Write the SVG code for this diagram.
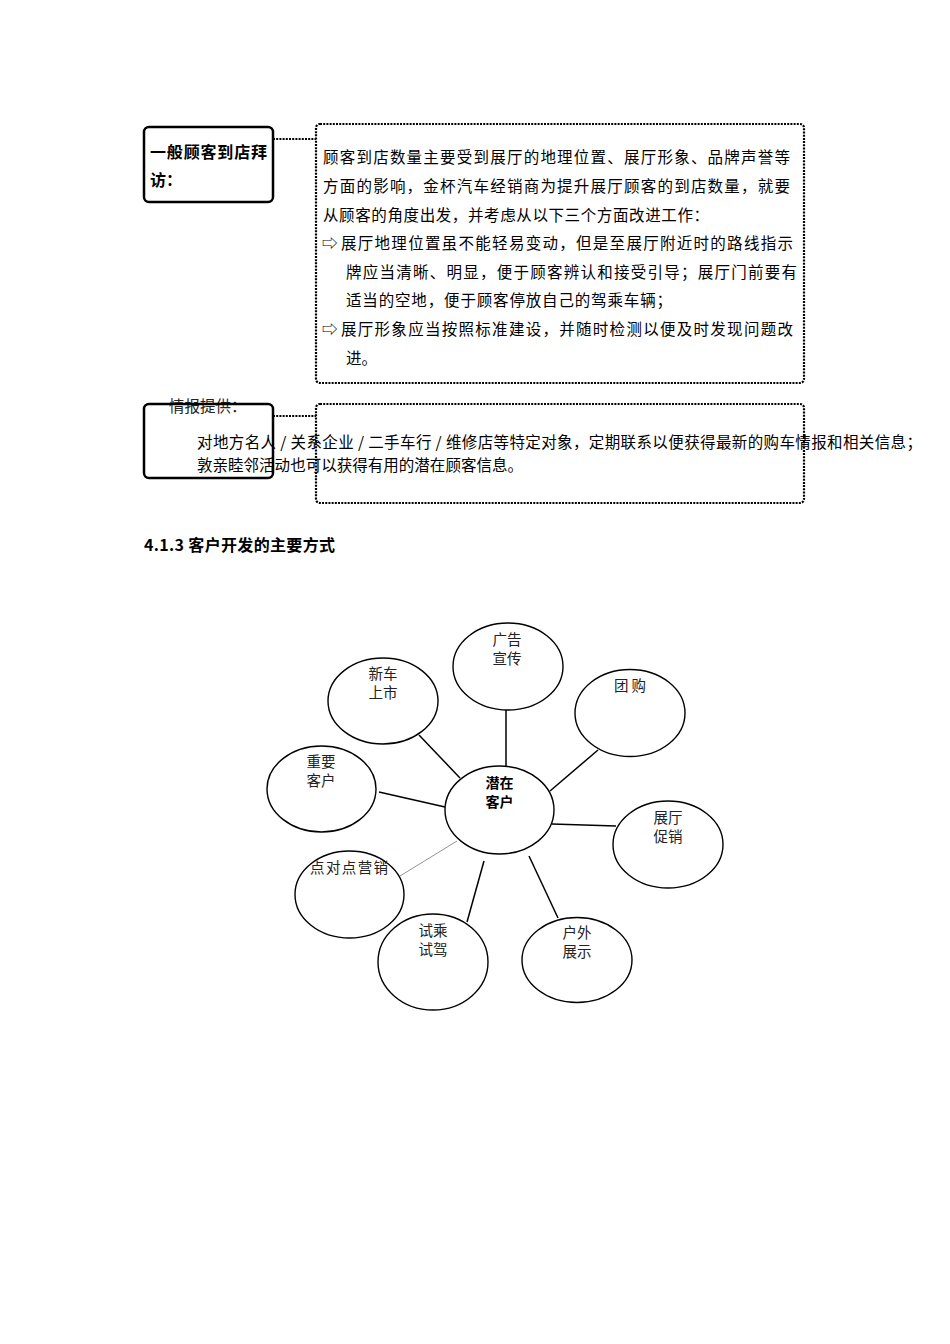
<svg xmlns="http://www.w3.org/2000/svg" width="950" height="1344" viewBox="0 0 950 1344">
<style>
text{font-family:"Noto Sans CJK SC","Noto Sans CJK JP",sans-serif;fill:#000}
.p{font-size:15.5px}
.b{font-weight:bold;font-size:16px}
.lb{font-size:14.5px;fill:#222;text-anchor:middle}
.solid{fill:none;stroke:#000;stroke-width:2.5}
.dot{fill:none;stroke:#000;stroke-width:2.2;stroke-dasharray:2 1.2}
.el{fill:none;stroke:#000;stroke-width:1.4}
.ln{stroke:#000;stroke-width:1.5}
</style>
<rect width="950" height="1344" fill="#fff"/>

<g id="box-visit-label">
<rect class="solid" x="144" y="127" width="129" height="75" rx="5"/>
<text class="b" x="150" y="158" textLength="117">一般顾客到店拜</text>
<text class="b" x="150" y="186">访：</text>
</g>
<g id="box-visit-text">
<rect class="dot" x="316" y="124" width="488" height="259" rx="4"/>
<text class="p" x="323" y="163" textLength="467">顾客到店数量主要受到展厅的地理位置、展厅形象、品牌声誉等</text>
<text class="p" x="323" y="192" textLength="467">方面的影响，金杯汽车经销商为提升展厅顾客的到店数量，就要</text>
<text class="p" x="323" y="221" textLength="386">从顾客的角度出发，并考虑从以下三个方面改进工作：</text>
<text class="p" x="322" y="249">⇨</text>
<text class="p" x="341" y="249" textLength="452">展厅地理位置虽不能轻易变动，但是至展厅附近时的路线指示</text>
<text class="p" x="346" y="278" textLength="451">牌应当清晰、明显，便于顾客辨认和接受引导；展厅门前要有</text>
<text class="p" x="346" y="306" textLength="326">适当的空地，便于顾客停放自己的驾乘车辆；</text>
<text class="p" x="322" y="335">⇨</text>
<text class="p" x="341" y="335" textLength="452">展厅形象应当按照标准建设，并随时检测以便及时发现问题改</text>
<text class="p" x="346" y="364">进。</text>
</g>

<g id="box-info-text">
<text class="p" x="169" y="412" style="fill:#222">情报提供：</text>
<text class="p" x="197" y="448" textLength="725">对地方名人 / 关系企业 / 二手车行 / 维修店等特定对象，定期联系以便获得最新的购车情报和相关信息；</text>
<text class="p" x="197" y="471" textLength="326">敦亲睦邻活动也可以获得有用的潜在顾客信息。</text>
<rect class="dot" x="316" y="404" width="488" height="99" rx="4"/>
</g>
<g id="box-info-label">
<rect class="solid" x="144" y="404" width="129" height="74" rx="5"/>
</g>

<g id="heading">
<text class="b" x="144" y="551" textLength="191">4.1.3 客户开发的主要方式</text>
</g>

<g id="connectors">
<line class="dot" x1="273" y1="139" x2="316" y2="139"/>
<line class="dot" x1="273" y1="416" x2="316" y2="416"/>
<line class="ln" x1="419" y1="735" x2="460" y2="778"/>
<line class="ln" x1="506" y1="710" x2="506" y2="766"/>
<line class="ln" x1="598" y1="750" x2="550" y2="791"/>
<line class="ln" x1="379" y1="792" x2="445" y2="807"/>
<line class="ln" x1="552" y1="824" x2="616" y2="826"/>
<line x1="457" y1="841" x2="400" y2="876" stroke="#777" stroke-width="0.8"/>
<line class="ln" x1="484" y1="861" x2="467" y2="922"/>
<line class="ln" x1="529" y1="856" x2="558" y2="918"/>
</g>

<g id="node-center">
<ellipse class="el" cx="499.5" cy="810" rx="54.5" ry="44"/>
<text class="lb" x="499.5" y="788" style="font-weight:bold;font-size:14px;fill:#000">潜在</text>
<text class="lb" x="499.5" y="807" style="font-weight:bold;font-size:14px;fill:#000">客户</text>
</g>
<g id="node-ad">
<ellipse class="el" cx="508" cy="666.5" rx="55" ry="43.5"/>
<text class="lb" x="507" y="645">广告</text>
<text class="lb" x="507" y="663.5">宣传</text>
</g>
<g id="node-newcar">
<ellipse class="el" cx="383" cy="701" rx="55" ry="43"/>
<text class="lb" x="383" y="679">新车</text>
<text class="lb" x="383" y="697.5">上市</text>
</g>
<g id="node-group">
<ellipse class="el" cx="630" cy="713" rx="55" ry="43.5"/>
<text class="lb" x="630" y="691">团 购</text>
</g>
<g id="node-vip">
<ellipse class="el" cx="321.5" cy="789" rx="54.5" ry="43"/>
<text class="lb" x="321" y="767">重要</text>
<text class="lb" x="321" y="785.5">客户</text>
</g>
<g id="node-showroom">
<ellipse class="el" cx="668" cy="844.5" rx="55" ry="43.5"/>
<text class="lb" x="668" y="823">展厅</text>
<text class="lb" x="668" y="841.5">促销</text>
</g>
<g id="node-p2p">
<ellipse class="el" cx="349.5" cy="894.5" rx="54.5" ry="43.5"/>
<text class="lb" x="349" y="873" textLength="78">点对点营销</text>
</g>
<g id="node-testdrive">
<ellipse class="el" cx="433" cy="962" rx="55" ry="48"/>
<text class="lb" x="433" y="936">试乘</text>
<text class="lb" x="433" y="954.5">试驾</text>
</g>
<g id="node-outdoor">
<ellipse class="el" cx="577" cy="960" rx="55" ry="42.5"/>
<text class="lb" x="577" y="938">户外</text>
<text class="lb" x="577" y="956.5">展示</text>
</g>
</svg>
